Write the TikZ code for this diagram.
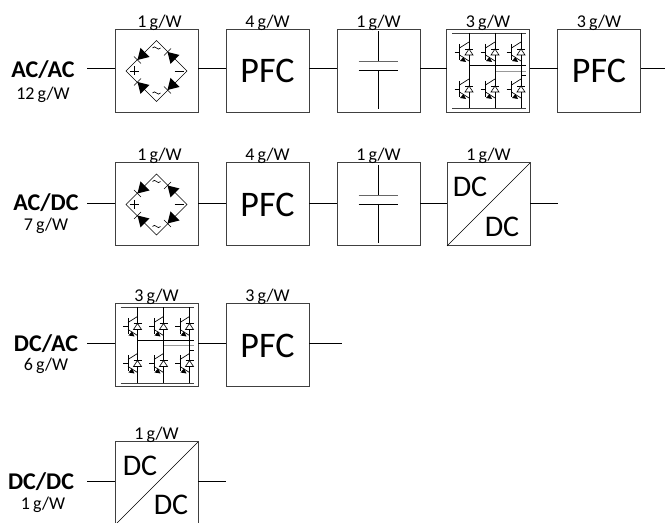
\documentclass[tikz,border=0pt]{standalone}
\usepackage{fontspec}
\setmainfont{Carlito}
\tikzset{
    block/.style={draw=black!75, line width=0.75pt, minimum width=62.25pt, minimum height=62.25pt, inner sep=0pt, outer sep=0pt},
    link/.style={line width=0.6pt},
    part/.style={line width=0.5pt},
    weight/.style={font=\fontsize{13.5}{14}\selectfont, inner sep=0pt},
    kind/.style={font=\fontsize{18}{19}\selectfont\bfseries, inner sep=0pt},
    bigtext/.style={font=\fontsize{27}{28}\selectfont, inner sep=0pt},
    dctext/.style={font=\fontsize{22.5}{24}\selectfont, inner sep=0pt}
}
% bridge rectifier
\newcommand{\bridgeparts}[1]{
    \begin{scope}[shift={(#1)}]
        \draw[part] (-30.5,0) -- (0,-30.5) -- (30.5,0) -- (0,30.5) -- cycle;
        % diodes: centre and direction of the tip
        \foreach \a/\b/\dx/\dy in {-15/-15/-1/1,15/-15/-1/-1,-15/15/-1/-1,15/15/-1/1} {
            \fill ({\a+4*\dx},{\b+4*\dy}) -- ({\a-3.5*\dx-4.5*\dy},{\b-3.5*\dy+4.5*\dx}) -- ({\a-3.5*\dx+4.5*\dy},{\b-3.5*\dy-4.5*\dx}) -- cycle;
            \draw[part] ({\a+4*\dx-3.5*\dy},{\b+4*\dy+3.5*\dx}) -- ({\a+4*\dx+3.5*\dy},{\b+4*\dy-3.5*\dx});
        }
        \draw[part] (-27,0) -- (-18,0) (-22.5,-4.5) -- (-22.5,4.5);
        \draw[part] (18,0) -- (27,0);
        \draw[part] (-4,-23) .. controls (-1.5,-27) and (1.5,-19) .. (4,-23);
        \draw[part] (-4,22) .. controls (-1.5,18) and (1.5,26) .. (4,22);
    \end{scope}
}
% capacitor
\newcommand{\capparts}[1]{
    \begin{scope}[shift={(#1)}]
        \draw[part] (0,-39.5) -- (0,-9.5) (0,-0.5) -- (0,38.5);
        \draw[part, black!60] (-20,-9.5) -- (19,-9.5);
        \draw[part] (-20,-0.5) -- (19,-0.5);
    \end{scope}
}
% six switch bridge
\newcommand{\switchparts}[1]{
    \begin{scope}[shift={(#1)}]
        \draw[part, black!75] (-36,-38) -- (37.5,-38) (-36,37.5) -- (37.5,37.5);
        \draw[part] (-19,-5.5) -- (37.5,-5.5);
        \draw[part, black!40] (7,0) -- (37.5,0);
        \draw[part] (33,4.5) -- (37.5,4.5);
        \foreach \x in {-19,7,33} {
            \draw[line width=0.6pt] (\x,-38) -- (\x,37.5);
            \foreach \y in {-19,18} {
                \draw[part] (\x-14.5,\y) -- (\x-9.5,\y) (\x-9.5,\y-8) -- (\x-9.5,\y+8);
                \draw[part] (\x-9.5,\y-4) -- (\x,\y-10) (\x-9.5,\y+3) -- (\x,\y+9);
                \fill (\x-3,\y+10) -- (\x-9,\y+9) -- (\x-5.5,\y+5) -- cycle;
                \draw[part, fill=white] (\x-4,\y+3) -- (\x+4,\y+3) -- (\x,\y-3) -- cycle;
                \draw[part] (\x-4,\y-3) -- (\x+4,\y-3);
            }
        }
    \end{scope}
}
\begin{document}
\begin{tikzpicture}[x=0.75pt, y=-0.75pt]
    \useasboundingbox (0,0) rectangle (665,523);

    % first row
    \node[kind] (kindone) at (43,70) {AC/AC};
    \node[weight] (massone) at (43,95) {12\,g/W};
    \coordinate (inone) at (87,68.5);
    \coordinate (outone) at (665,68.5);
    \node[block] (recone) at (156.5,71) {};
    \node[block] (pfcone) at (267.5,71) {};
    \node[block] (capone) at (378.5,71) {};
    \node[block] (invone) at (488,71) {};
    \node[block] (pfctwo) at (599,71) {};
    \bridgeparts{recone}
    \node[bigtext] (pfconetext) at (pfcone) {PFC};
    \capparts{capone}
    \switchparts{invone}
    \node[bigtext] (pfctwotext) at (pfctwo) {PFC};
    \draw[link] (inone) -- (inone -| recone.west);
    \draw[link] (inone -| recone.east) -- (inone -| pfcone.west);
    \draw[link] (inone -| pfcone.east) -- (inone -| capone.west);
    \draw[link] (inone -| capone.east) -- (inone -| invone.west);
    \draw[link] (inone -| invone.east) -- (inone -| pfctwo.west);
    \draw[link] (inone -| pfctwo.east) -- (outone);
    \foreach \n/\t/\s in {recone/1/3,pfcone/4/0,capone/1/0,invone/3/0,pfctwo/3/0} {
        \node[weight, above=-1pt, xshift=\s*0.75pt] (w\n) at (\n.north) {\t\,g/W};
    }

    % second row
    \node[kind] (kindtwo) at (46,203) {AC/DC};
    \node[weight] (masstwo) at (46,226) {7\,g/W};
    \coordinate (intwo) at (87,203);
    \coordinate (outtwo) at (558,203);
    \node[block] (rectwo) at (156.5,204.5) {};
    \node[block] (pfcthree) at (267.5,204.5) {};
    \node[block] (captwo) at (378.5,204.5) {};
    \node[block] (dcone) at (488.5,204.5) {};
    \bridgeparts{rectwo}
    \node[bigtext] (pfcthreetext) at (pfcthree) {PFC};
    \capparts{captwo}
    \draw[part] (dcone.south west) -- (dcone.north east);
    \node[dctext] (dconea) at (470,187) {DC};
    \node[dctext] (dconeb) at (502,227) {DC};
    \draw[link] (intwo) -- (intwo -| rectwo.west);
    \draw[link] (intwo -| rectwo.east) -- (intwo -| pfcthree.west);
    \draw[link] (intwo -| pfcthree.east) -- (intwo -| captwo.west);
    \draw[link] (intwo -| captwo.east) -- (intwo -| dcone.west);
    \draw[link] (intwo -| dcone.east) -- (outtwo);
    \foreach \n/\t/\s in {rectwo/1/3,pfcthree/4/0,captwo/1/0,dcone/1/0} {
        \node[weight, above=-1pt, xshift=\s*0.75pt] (w\n) at (\n.north) {\t\,g/W};
    }

    % third row
    \node[kind] (kindthree) at (46,344) {DC/AC};
    \node[weight] (massthree) at (46,366) {6\,g/W};
    \coordinate (inthree) at (87,343);
    \coordinate (outthree) at (342,343);
    \node[block] (invtwo) at (156.5,345.5) {};
    \node[block] (pfcfour) at (267.5,345.5) {};
    \switchparts{invtwo}
    \node[bigtext] (pfcfourtext) at (pfcfour) {PFC};
    \draw[link] (inthree) -- (inthree -| invtwo.west);
    \draw[link] (invtwo.east |- outthree) -- (pfcfour.west |- outthree);
    \draw[link] (pfcfour.east |- outthree) -- (outthree);
    \foreach \n/\t in {invtwo/3,pfcfour/3} {
        \node[weight, above=-1pt] (w\n) at (\n.north) {\t\,g/W};
    }

    % fourth row
    \node[kind] (kindfour) at (41,482) {DC/DC};
    \node[weight] (massfour) at (43,505) {1\,g/W};
    \coordinate (infour) at (87,481);
    \coordinate (outfour) at (226,481);
    \node[block] (dctwo) at (156.5,483.5) {};
    \draw[part] (dctwo.south west) -- (dctwo.north east);
    \node[dctext] (dctwoa) at (140,466) {DC};
    \node[dctext] (dctwob) at (171,505) {DC};
    \draw[link] (infour) -- (infour -| dctwo.west);
    \draw[link] (outfour -| dctwo.east) -- (outfour);
    \node[weight, above=-1pt] (wdctwo) at (dctwo.north) {1\,g/W};
\end{tikzpicture}
\end{document}
